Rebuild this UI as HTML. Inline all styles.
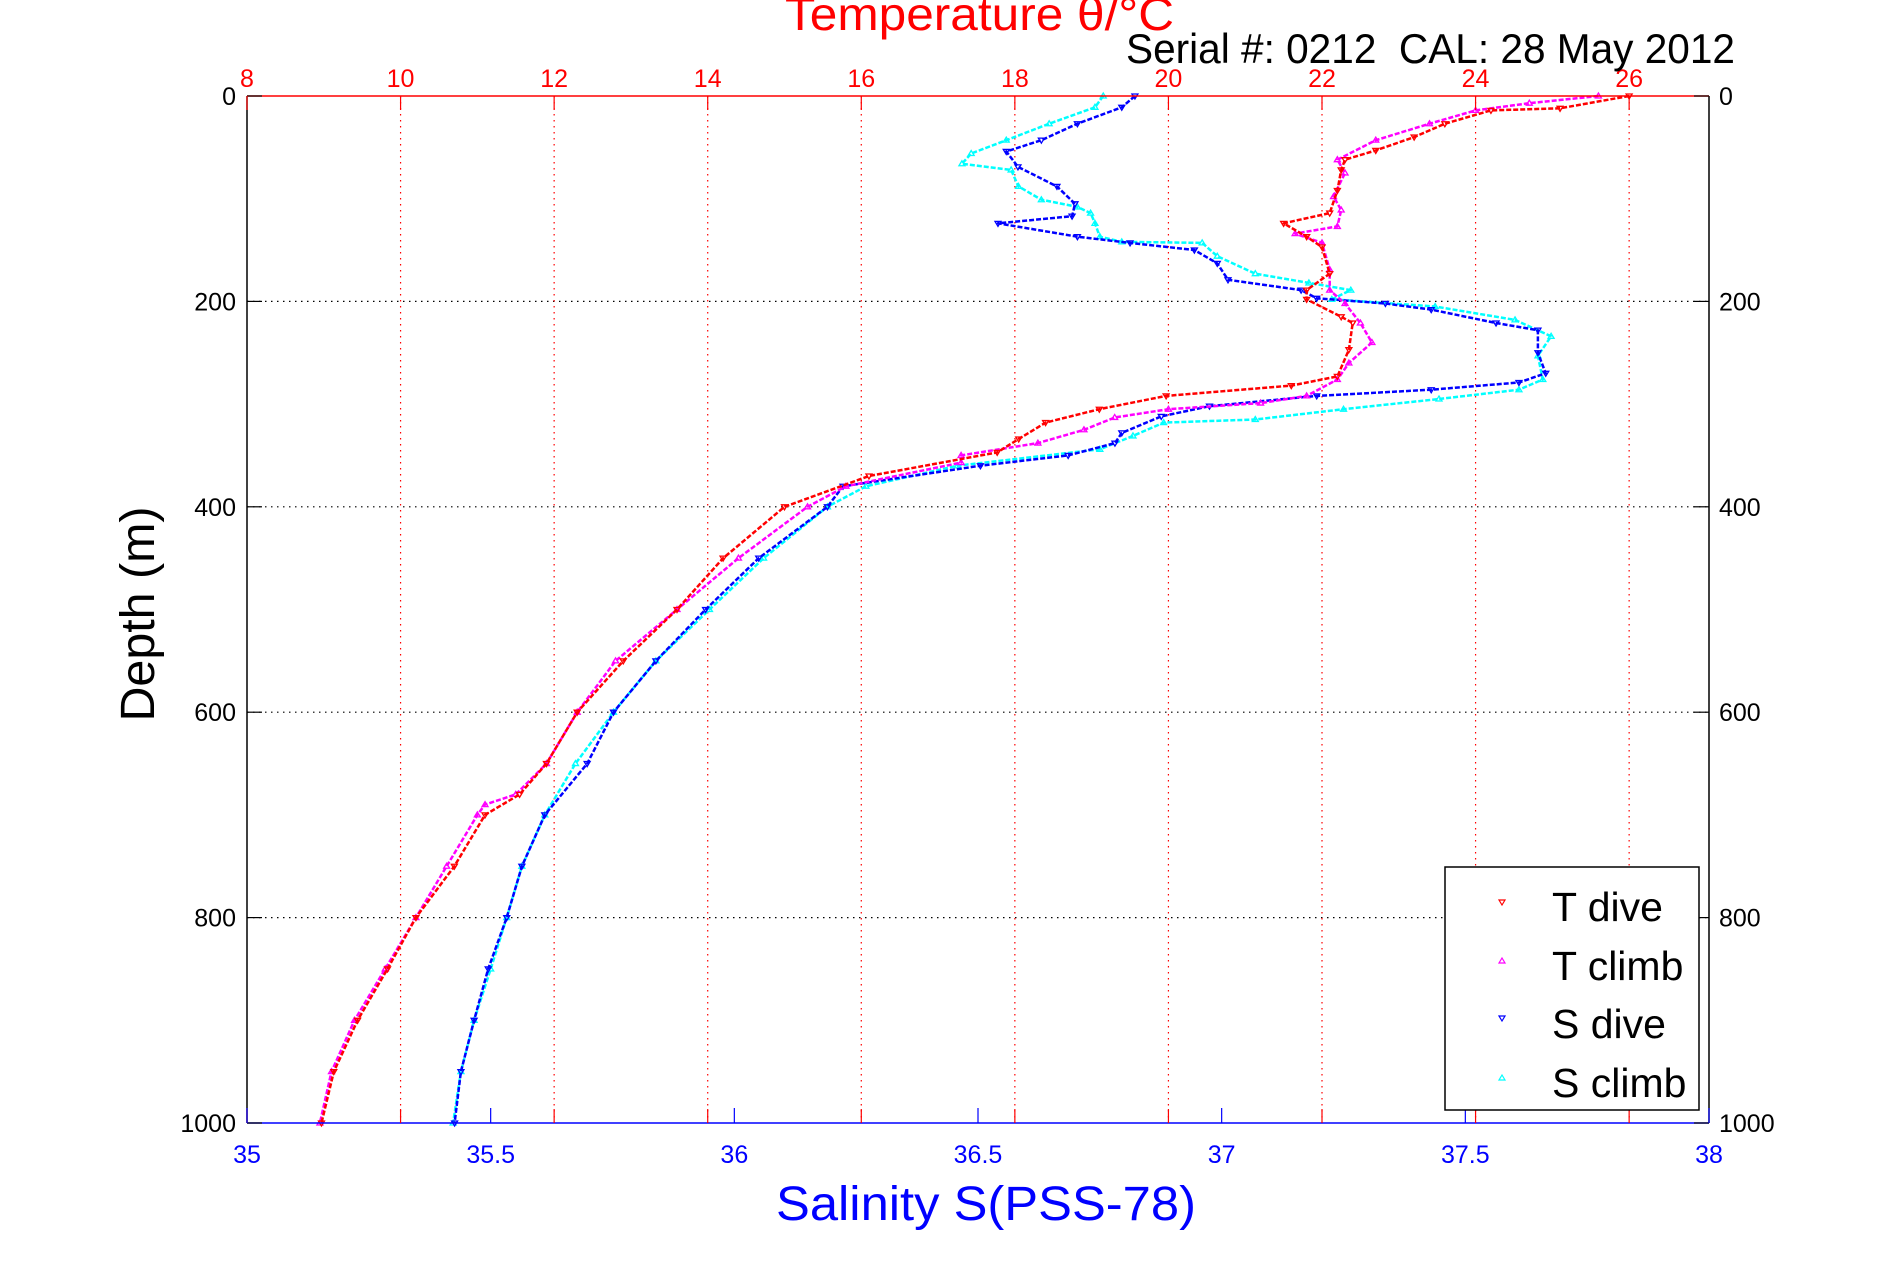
<!DOCTYPE html>
<html><head><meta charset="utf-8"><style>
html,body{margin:0;padding:0;background:#fff;}
svg{display:block;font-family:"Liberation Sans",Arial,sans-serif;}
</style></head><body>
<svg id="chart" width="1891" height="1262" viewBox="0 0 1891 1262">
<g id="grid"></g>
<g id="series"></g>
<g id="axes"></g>
<text x="1174" y="30" fill="#f00" font-size="46" text-anchor="end" textLength="389" lengthAdjust="spacingAndGlyphs">Temperature θ/°C</text>
<text x="1735" y="63" fill="#000" font-size="42" text-anchor="end" textLength="609" lengthAdjust="spacingAndGlyphs">Serial #: 0212&#160;&#160;CAL: 28 May 2012</text>
<text x="986" y="1220" fill="#00f" font-size="48" text-anchor="middle" textLength="420" lengthAdjust="spacingAndGlyphs">Salinity S(PSS-78)</text>
<text transform="translate(154,614) rotate(-90)" fill="#000" font-size="48" text-anchor="middle" textLength="215" lengthAdjust="spacingAndGlyphs">Depth (m)</text>
<g>
<rect x="1445" y="867" width="254" height="243" fill="#fff" stroke="#000" stroke-width="1.5"/>
<polygon points="1499,900 1505,900 1502,905" fill="none" stroke="#f00" stroke-width="1.2"/>
<text x="1552" y="921" font-size="41">T dive</text>
<polygon points="1499,963 1505,963 1502,958" fill="none" stroke="#f0f" stroke-width="1.2"/>
<text x="1552" y="980" font-size="41">T climb</text>
<polygon points="1499,1016 1505,1016 1502,1021" fill="none" stroke="#00f" stroke-width="1.2"/>
<text x="1552" y="1038" font-size="41">S dive</text>
<polygon points="1499,1080 1505,1080 1502,1075" fill="none" stroke="#0ff" stroke-width="1.2"/>
<text x="1552" y="1097" font-size="41">S climb</text>
</g>
</svg>
<script>
const depthTicks=[0,200,400,600,800,1000];
const tempTicks=[8,10,12,14,16,18,20,22,24,26];
const salTicks=[35,35.5,36,36.5,37,37.5,38];
const salTickLabels=["35","35.5","36","36.5","37","37.5","38"];

const tDiveDepth=[0,12,14,27,40,53,62,72,92,114,124,137,147,173,189,198,215,221,247,273,282,292,305,318,334,347,370,400,450,500,550,600,650,680,700,750,800,850,900,950,1000];
const tDiveTemp=[26,25.1,24.2,23.6,23.2,22.7,22.3,22.25,22.2,22.1,21.5,21.8,22,22.1,21.8,21.8,22.25,22.4,22.35,22.2,21.6,19.97,19.1,18.4,18.05,17.77,16.1,15.0,14.2,13.6,12.9,12.3,11.9,11.55,11.1,10.7,10.2,9.83,9.44,9.13,8.97];

const tClimbDepth=[0,7,14,27,43,62,75,98,111,127,134,143,169,189,202,221,240,260,276,292,299,305,313,325,338,350,357,380,400,450,500,550,600,650,680,690,700,750,800,850,900,950,1000];
const tClimbTemp=[25.6,24.7,24,23.4,22.7,22.2,22.3,22.15,22.25,22.2,21.65,22,22.1,22.1,22.3,22.5,22.65,22.35,22.2,21.8,21.2,20.0,19.3,18.9,18.3,17.3,17.3,15.8,15.3,14.4,13.6,12.8,12.3,11.9,11.5,11.1,11.0,10.6,10.2,9.8,9.4,9.1,8.95];

const sDiveDepth=[0,11,27,43,54,69,88,105,117,124,137,143,150,163,179,189,197,202,208,221,228,250,270,279,286,292,302,312,328,338,350,360,380,400,450,500,550,600,650,700,750,800,850,900,950,1000];
const sDiveSal=[36.822,36.795,36.704,36.630,36.558,36.582,36.662,36.699,36.693,36.541,36.704,36.812,36.944,36.991,37.013,37.163,37.195,37.336,37.430,37.563,37.649,37.649,37.665,37.610,37.430,37.195,36.975,36.876,36.795,36.781,36.685,36.505,36.223,36.191,36.050,35.941,35.839,35.752,35.698,35.611,35.564,35.533,35.495,35.466,35.439,35.426];

const sClimbDepth=[0,11,27,43,56,66,72,88,101,108,114,124,137,142,143,156,173,182,189,198,205,218,234,253,276,286,295,305,315,318,331,344,360,380,400,450,500,550,600,650,700,750,800,850,900,950,1000];
const sClimbSal=[36.757,36.740,36.646,36.558,36.486,36.467,36.568,36.583,36.630,36.704,36.731,36.740,36.750,36.795,36.960,36.991,37.069,37.179,37.265,37.226,37.438,37.602,37.676,37.649,37.659,37.610,37.446,37.250,37.069,36.881,36.818,36.750,36.458,36.270,36.191,36.060,35.949,35.839,35.752,35.674,35.611,35.564,35.533,35.500,35.466,35.439,35.423];

const L=247,R=1709,T=96,B=1123;
const tMin=8,tMax=27.04,sMin=35,sMax=38,dMin=0,dMax=1000;
const xT=v=>L+(v-tMin)/(tMax-tMin)*(R-L);
const xS=v=>L+(v-sMin)/(sMax-sMin)*(R-L);
const yD=v=>T+(v-dMin)/(dMax-dMin)*(B-T);
const NS='http://www.w3.org/2000/svg';
function mk(tag,attrs,parent){const e=document.createElementNS(NS,tag);for(const k in attrs)e.setAttribute(k,attrs[k]);parent.appendChild(e);return e;}
const grid=document.getElementById('grid'),axes=document.getElementById('axes'),series=document.getElementById('series');

depthTicks.forEach(d=>{if(d===0||d===1000)return;
 const l=mk('line',{x1:L,x2:R,y1:yD(d),y2:yD(d),stroke:'#000','stroke-width':1.2,'stroke-dasharray':'1.5 4.5'},grid);
 
 });
tempTicks.forEach(t=>{if(t===8)return;
 const l=mk('line',{x1:xT(t),x2:xT(t),y1:T,y2:B,stroke:'#f00','stroke-width':1.2,'stroke-dasharray':'1.5 4.5'},grid);
 
 });

function drawSeries(depths,vals,xf,color,down,name){
 const g=mk('g',{},series);
 
 
 const pts=depths.map((d,i)=>xf(vals[i]).toFixed(1)+','+yD(d).toFixed(1)).join(' ');
 const pl=mk('polyline',{points:pts,fill:'none',stroke:color,'stroke-width':2.5,'stroke-linejoin':'round','stroke-dasharray':'5 2'},g);
 
 
 depths.forEach((d,i)=>{const x=xf(vals[i]),y=yD(d);
  const p=down?`${x-3},${y-2} ${x+3},${y-2} ${x},${y+3}`:`${x-3},${y+2} ${x+3},${y+2} ${x},${y-3}`;
  const m=mk('polygon',{points:p,fill:'none',stroke:color,'stroke-width':1.3},g);
  
  });
}
drawSeries(sClimbDepth,sClimbSal,xS,'#00ffff',false,'s-climb-series');
drawSeries(sDiveDepth,sDiveSal,xS,'#0000ff',true,'s-dive-series');
drawSeries(tClimbDepth,tClimbTemp,xT,'#ff00ff',false,'t-climb-series');
drawSeries(tDiveDepth,tDiveTemp,xT,'#ff0000',true,'t-dive-series');

let a;
a=mk('line',{x1:L,x2:L,y1:T,y2:B,stroke:'#000','stroke-width':1.5},axes);


a=mk('line',{x1:R,x2:R,y1:T,y2:B,stroke:'#000','stroke-width':1.5},axes);


a=mk('line',{x1:L,x2:R,y1:T,y2:T,stroke:'#f00','stroke-width':1.5},axes);


a=mk('line',{x1:L,x2:R,y1:B,y2:B,stroke:'#00f','stroke-width':1.5},axes);



depthTicks.forEach(d=>{const y=yD(d);
 mk('line',{x1:L,x2:L+15,y1:y,y2:y,stroke:'#000','stroke-width':1.2},axes);
 mk('line',{x1:R-15,x2:R,y1:y,y2:y,stroke:'#000','stroke-width':1.2},axes);
 const t1=mk('text',{x:236,y:y+9,'font-size':25,'text-anchor':'end',fill:'#000'},axes);t1.textContent=d;
 
 
 const t2=mk('text',{x:1719,y:y+9,'font-size':25,fill:'#000'},axes);t2.textContent=d;
 
 });
tempTicks.forEach(t=>{const x=xT(t);
 mk('line',{x1:x,x2:x,y1:T,y2:T+14,stroke:'#f00','stroke-width':1.2},axes);
 mk('line',{x1:x,x2:x,y1:B-14,y2:B,stroke:'#f00','stroke-width':1.2},axes);
 const tx=mk('text',{x:x,y:87,'font-size':25,'text-anchor':'middle',fill:'#f00'},axes);tx.textContent=t;
 
 });
salTicks.forEach((s,i)=>{const x=xS(s);
 mk('line',{x1:x,x2:x,y1:B-15,y2:B,stroke:'#00f','stroke-width':1.2},axes);
 const tx=mk('text',{x:x,y:1163,'font-size':25,'text-anchor':'middle',fill:'#00f'},axes);tx.textContent=salTickLabels[i];
 
 });
</script>
</body></html>
